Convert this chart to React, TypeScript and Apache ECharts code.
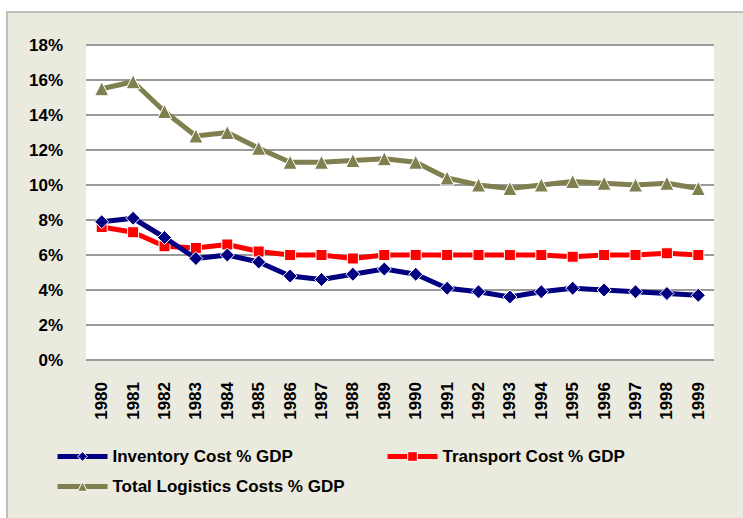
import React, { useEffect, useRef } from "react";
import * as echarts from "echarts";

const years = ["1980","1981","1982","1983","1984","1985","1986","1987","1988","1989","1990","1991","1992","1993","1994","1995","1996","1997","1998","1999"];
const inventory = [7.9, 8.1, 7.0, 5.8, 6.0, 5.6, 4.8, 4.6, 4.9, 5.2, 4.9, 4.1, 3.9, 3.6, 3.9, 4.1, 4.0, 3.9, 3.8, 3.7];
const transport = [7.6, 7.3, 6.5, 6.4, 6.6, 6.2, 6.0, 6.0, 5.8, 6.0, 6.0, 6.0, 6.0, 6.0, 6.0, 5.9, 6.0, 6.0, 6.1, 6.0];
const total = [15.5, 15.9, 14.2, 12.8, 13.0, 12.1, 11.3, 11.3, 11.4, 11.5, 11.3, 10.4, 10.0, 9.8, 10.0, 10.2, 10.1, 10.0, 10.1, 9.8];
const seriesNames = ["Inventory Cost % GDP", "Transport Cost % GDP", "Total Logistics Costs % GDP"];

const FONT = "'Liberation Sans', Arial, sans-serif";

export default function App() {
  const ref = useRef<HTMLDivElement>(null);
  useEffect(() => {
    if (!ref.current) return;
    const chart = echarts.init(ref.current, null, { renderer: "svg" });
    const legendText = { fontFamily: FONT, fontWeight: "bold", fontSize: 17, color: "#000" };
    const legendCommon = {
      padding: 0,
      itemWidth: 50,
      itemHeight: 12,
      itemStyle: { borderColor: "#ffffff", borderWidth: 1 },
      lineStyle: { width: 5 },
      textStyle: legendText,
    };
    chart.setOption({
      animation: false,
      backgroundColor: "#ffffff",
      graphic: [
        {
          type: "rect",
          z: -10,
          shape: { x: 7, y: 12, width: 800, height: 600 },
          style: { fill: "#EAEADF", stroke: "#BFBFBF", lineWidth: 2 },
        },
      ],
      grid: {
        left: 86,
        right: 29,
        top: 45,
        bottom: 158,
        show: true,
        backgroundColor: "#ffffff",
        borderWidth: 0,
      },
      legend: [
        { ...legendCommon, data: [seriesNames[0]], left: 55, top: 448 },
        { ...legendCommon, data: [seriesNames[1]], left: 385, top: 448 },
        { ...legendCommon, data: [seriesNames[2]], left: 55, top: 478 },
      ],
      xAxis: {
        type: "category",
        data: years,
        boundaryGap: true,
        axisLine: { show: false },
        axisTick: { show: false },
        axisLabel: {
          rotate: 90,
          margin: 22,
          interval: 0,
          fontFamily: FONT,
          fontWeight: "bold",
          fontSize: 17,
          color: "#000",
        },
      },
      yAxis: {
        type: "value",
        min: 0,
        max: 18,
        interval: 2,
        axisLine: { show: false },
        axisTick: { show: false },
        splitLine: { lineStyle: { color: "#9A9A9A", width: 2 } },
        axisLabel: {
          formatter: "{value}%",
          margin: 23,
          fontFamily: FONT,
          fontWeight: "bold",
          fontSize: 17,
          color: "#000",
        },
      },
      series: [
        {
          name: seriesNames[1],
          type: "line",
          data: transport,
          symbol: "rect",
          symbolSize: 11,
          lineStyle: { color: "#FF0000", width: 5 },
          itemStyle: { color: "#FF0000", borderColor: "#ffffff", borderWidth: 1 },
          z: 2,
        },
        {
          name: seriesNames[0],
          type: "line",
          data: inventory,
          symbol: "diamond",
          symbolSize: 14,
          lineStyle: { color: "#000080", width: 5 },
          itemStyle: { color: "#000080", borderColor: "#ffffff", borderWidth: 1 },
          z: 3,
        },
        {
          name: seriesNames[2],
          type: "line",
          data: total,
          symbol: "triangle",
          symbolSize: 14,
          lineStyle: { color: "#7F7F50", width: 5 },
          itemStyle: { color: "#7F7F50", borderColor: "#ffffff", borderWidth: 1 },
          z: 4,
        },
      ],
    });
    return () => chart.dispose();
  }, []);
  return (
    <div
      ref={ref}
      style={{ position: "fixed", left: 0, top: 0, width: 743, height: 518 }}
    />
  );
}
